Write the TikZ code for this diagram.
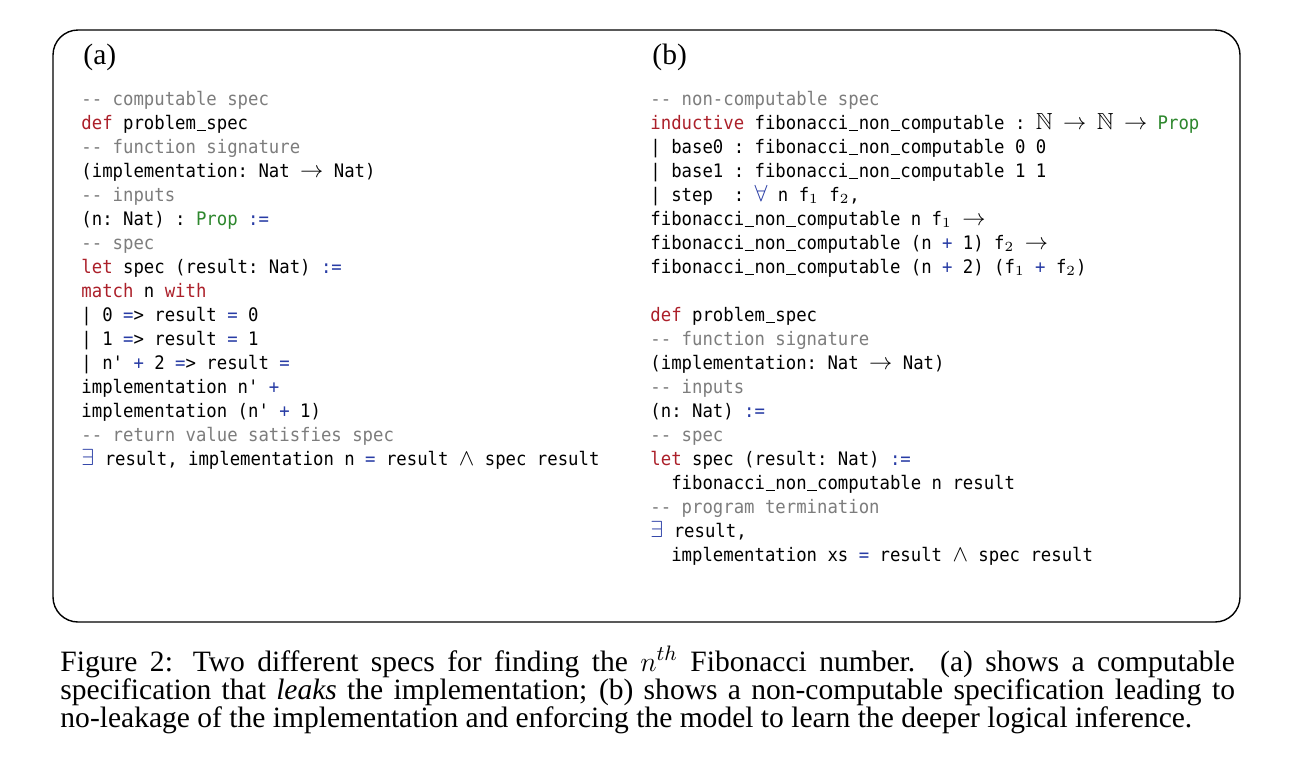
\documentclass[tikz,border=0pt]{standalone}
\usepackage{amssymb}
\usepackage[no-math]{fontspec}
\setmainfont{Liberation Serif}
\setmonofont[FakeStretch=0.93]{DejaVu Sans Mono}
\definecolor{kwred}{RGB}{172,32,42}
\definecolor{cmgray}{RGB}{125,125,125}
\definecolor{prgreen}{RGB}{45,135,45}
\definecolor{opblue}{RGB}{40,60,165}
\newcommand{\LKw}[1]{\textcolor{kwred}{#1}}
\newcommand{\LCm}[1]{\textcolor{cmgray}{#1}}
\newcommand{\LPr}[1]{\textcolor{prgreen}{#1}}
\newcommand{\LOp}[1]{\textcolor{opblue}{#1}}
\newcommand{\LM}[1]{{\fontsize{10}{10}\selectfont\smash{$#1$}}}
\newcommand{\LS}[1]{\smash{$_{#1}$}}
\newcommand{\US}{\leavevmode\rlap{\kern0.2pt\rule[-0.9pt]{4.1pt}{0.6pt}}\phantom{x}}
\begin{document}
\begin{tikzpicture}[x=0.43pt,y=-0.43pt,
  code/.style={anchor=base west, inner sep=0pt, font=\fontsize{8}{10}\selectfont\ttfamily},
  lbl/.style={anchor=base west, inner sep=0pt, font=\fontsize{12.7}{14}\selectfont},
  framebox/.style={draw, line width=0.6pt, rounded corners=10.75pt, inner sep=0pt}]
\fill[white] (0,0) rectangle (1293,764);
\useasboundingbox (0,0) rectangle (1293,764);
\node[framebox, minimum width=1187*0.43pt, minimum height=592*0.43pt] (frame) at (646.5,326) {};
\node[lbl] (la) at (83,64) {(a)};
\node[lbl] (lb) at (652,64) {(b)};
% left column
\node[code] (a1) at (81,105.0) {\LCm{-{}- computable spec}};
\node[code] (a2) at (81,129.0) {\LKw{def} problem\US spec};
\node[code] (a3) at (81,153.0) {\LCm{-{}- function signature}};
\node[code] (a4) at (81,177.0) {(implementation: Nat \LM{\rightarrow} Nat)};
\node[code] (a5) at (81,201.0) {\LCm{-{}- inputs}};
\node[code] (a6) at (81,225.0) {(n: Nat) : \LPr{Prop} \LOp{:=}};
\node[code] (a7) at (81,249.0) {\LCm{-{}- spec}};
\node[code] (a8) at (81,273.0) {\LKw{let} spec (result: Nat) \LOp{:=}};
\node[code] (a9) at (81,297.0) {\LKw{match} n \LKw{with}};
\node[code] (a10) at (81,321.0) {| 0 \LOp{=}> result \LOp{=} 0};
\node[code] (a11) at (81,345.0) {| 1 \LOp{=}> result \LOp{=} 1};
\node[code] (a12) at (81,369.0) {| n' \LOp{+} 2 \LOp{=}> result \LOp{=}};
\node[code] (a13) at (81,393.0) {implementation n' \LOp{+}};
\node[code] (a14) at (81,417.0) {implementation (n' \LOp{+} 1)};
\node[code] (a15) at (81,441.0) {\LCm{-{}- return value satisfies spec}};
\node[code] (a16) at (81,465.0) {\LOp{\LM{\exists}} result, implementation n \LOp{=} result \LM{\wedge} spec result};
% right column
\node[code] (b1) at (650,105.0) {\LCm{-{}- non-computable spec}};
\node[code] (b2) at (650,129.0) {\LKw{inductive} fibonacci\US non\US computable : \LM{\mathbb{N}} \LM{\rightarrow} \LM{\mathbb{N}} \LM{\rightarrow} \LPr{Prop}};
\node[code] (b3) at (650,153.0) {| base0 : fibonacci\US non\US computable 0 0};
\node[code] (b4) at (650,177.0) {| base1 : fibonacci\US non\US computable 1 1};
\node[code] (b5) at (650,201.0) {| step\ \ : \LOp{\LM{\forall}} n f\LS{1} f\LS{2},};
\node[code] (b6) at (650,225.0) {fibonacci\US non\US computable n f\LS{1} \LM{\rightarrow}};
\node[code] (b7) at (650,249.0) {fibonacci\US non\US computable (n \LOp{+} 1) f\LS{2} \LM{\rightarrow}};
\node[code] (b8) at (650,273.0) {fibonacci\US non\US computable (n \LOp{+} 2) (f\LS{1} \LOp{+} f\LS{2})};
\node[code] (b9) at (650,321.0) {\LKw{def} problem\US spec};
\node[code] (b10) at (650,345.0) {\LCm{-{}- function signature}};
\node[code] (b11) at (650,369.0) {(implementation: Nat \LM{\rightarrow} Nat)};
\node[code] (b12) at (650,393.0) {\LCm{-{}- inputs}};
\node[code] (b13) at (650,417.0) {(n: Nat) \LOp{:=}};
\node[code] (b14) at (650,441.0) {\LCm{-{}- spec}};
\node[code] (b15) at (650,465.0) {\LKw{let} spec (result: Nat) \LOp{:=}};
\node[code] (b16) at (650,489.0) {\phantom{xx}fibonacci\US non\US computable n result};
\node[code] (b17) at (650,513.0) {\LCm{-{}- program termination}};
\node[code] (b18) at (650,537.0) {\LOp{\LM{\exists}} result,};
\node[code] (b19) at (650,561.0) {\phantom{xx}implementation xs \LOp{=} result \LM{\wedge} spec result};
% caption
\node[anchor=base west, inner sep=0pt, text width=505pt, align=justify, font=\fontsize{12.7}{12.04}\selectfont] (cap) at (60,671)
 {Figure 2: Two different specs for finding the $n^{th}$ Fibonacci number. (a) shows a computable\linebreak
  specification that \textit{leaks} the implementation; (b) shows a non-computable specification leading to\linebreak
  no-leakage of the implementation and enforcing the model to learn the deeper logical inference.};
\end{tikzpicture}
\end{document}
